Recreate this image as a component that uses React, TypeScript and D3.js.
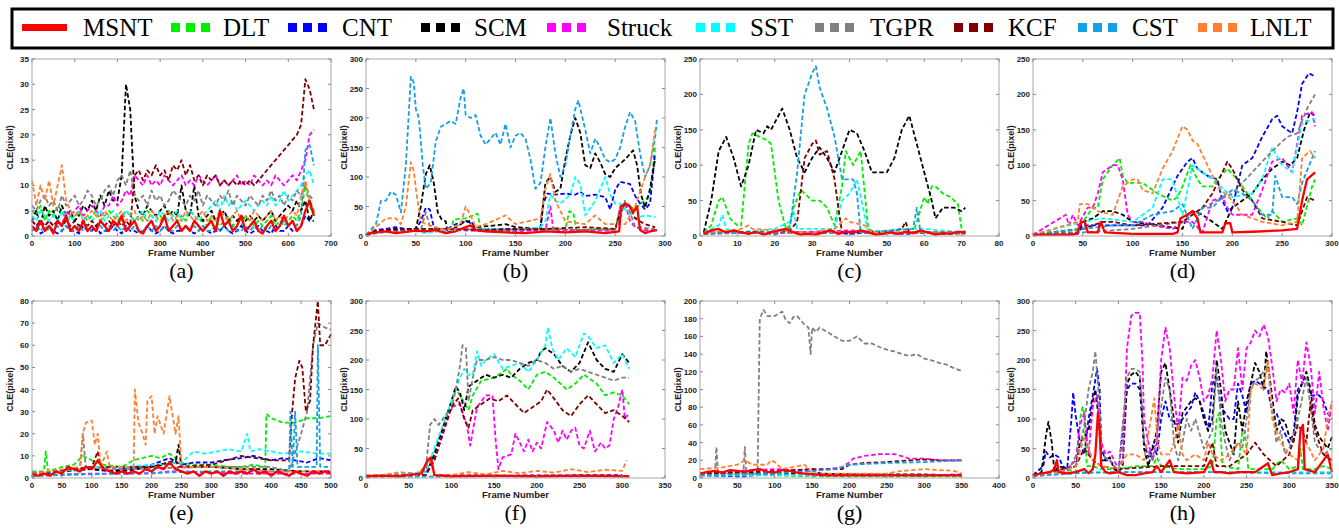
import * as d3 from "d3";

const methods = ["MSNT", "DLT", "CNT", "SCM", "Struck", "SST", "TGPR", "KCF", "CST", "LNLT"];
const colors = ["#ff0000", "#00ee00", "#0000ff", "#000000", "#ff00ff", "#00ffff", "#808080", "#800000", "#14a0e6", "#ff8030"];

// (a) one value every 10 frames, frames 0..660
const aMSNT = [2,1,3,1,2,0.5,3,2,4,1, 2,1,3,1,2,1,3,2,1,3, 2,4,1,2,3,1,0.5,2,3,1, 2,4,1,2,3,1,2,1,3,2, 1,2,3,1,5,2,3,1,2,4, 1,2,3,1,0.5,2,3,1,2,4, 2,3,1,2,5,7,4];
const aDLT = [5,4,6,3,5,4,6,5,3,4, 3,5,4,3,4,5,3,4,5,4, 3,4,5,4,3,4,3,5,4,3, 4,3,5,4,3,4,3,5,4,3, 3,2,4,3,2,3,4,2,3,2, 4,3,2,3,2,3,4,2,3,2, 3,4,3,5,10,6,4];
const aCNT = [1,2,0.5,1,2,1,0.5,1,2,1, 1,0.5,2,1,1,2,0.5,1,1,2, 1,0.5,2,1,1,0.5,1,2,1,0.5, 1,2,1,0.5,1,1,2,1,0.5,1, 2,1,0.5,1,1,2,1,0.5,1,2, 1,0.5,1,2,1,1,0.5,2,1,1, 2,1,1,2,4,3,3];
const aSCM = [3,5,2,6,4,5,3,6,4,5, 3,4,6,5,7,5,8,6,9,7, 7,12,30,25,8,5,4,6,5,4, 5,6,4,5,4,10,5,4,10,4, 3,4,5,3,4,5,3,4,3,4, 3,4,3,4,3,4,5,3,4,5, 6,5,7,5,7,3,5];
const aStruck = [3,2,3,2,3,2,3,2,5,4, 5,6,4,5,6,5,4,6,6,8, 6,7,9,8,12,11,10,12,10,11, 10,12,11,10,11,12,10,11,10,12, 11,10,11,12,10,11,10,11,12,10, 11,10,12,11,10,11,10,12,11,10, 11,12,11,13,15,20,21];
const aSST = [4,3,5,4,3,4,3,5,4,3, 4,5,3,4,3,4,5,3,4,5, 4,3,5,4,3,4,5,3,4,3, 5,4,3,4,5,3,4,5,4,3, 4,5,6,7,5,8,6,7,5,6, 7,6,5,6,7,6,8,6,7,9, 7,8,9,10,12,13,10];
const aTGPR = [6,5,7,8,6,7,5,8,6,7, 8,6,7,9,8,6,7,9,10,8, 11,12,10,13,8,7,8,6,9,7, 8,6,7,9,8,7,6,8,7,9, 6,8,7,6,8,7,9,6,8,7, 6,8,7,6,8,7,9,7,8,6, 8,7,9,8,10,8,7];
const aKCF = [3,2,3,2,3,2,3,2,3,2, 3,2,3,2,3,2,3,2,3,2, 3,2,3,2,12,13,11,13,12,14, 12,13,11,14,13,15,12,14,11,12, 10,12,11,12,10,11,10,11,10,11, 10,11,10,11,12,13,14,15,16,17, 18,19,20,22,31,29,25];
const aCST = [1,2,1,2,1,1,2,1,2,1, 1,2,1,2,1,1,2,1,2,1, 2,1,2,1,2,1,1,2,1,2, 1,2,1,1,2,1,2,1,2,1, 2,1,1,2,1,2,1,2,1,1, 2,1,2,1,2,1,2,1,2,3, 2,3,2,4,17,18,14];
const aLNLT = [11,6,10,7,11,6,10,14,7,5, 4,5,3,4,5,4,3,5,4,3, 4,5,3,4,5,3,4,3,5,4, 3,4,5,3,4,3,5,4,3,4, 5,3,4,3,5,4,3,4,5,3, 4,3,5,4,3,4,5,3,4,3, 4,5,4,8,11,7,5];

// (b)..(h): frame, value pairs
const bMSNT = [0,2, 5,5, 10,6, 20,8, 30,5, 40,7, 50,9, 60,8, 70,10, 80,5, 90,8, 100,15, 105,18, 110,10, 120,8, 140,6, 160,5, 180,8, 200,6, 220,8, 240,5, 254,8, 256,50, 260,55, 264,52, 268,40, 272,50, 275,10, 280,5, 285,8, 292,10];
const bDLT = [0,2, 10,8, 30,10, 50,10, 70,12, 85,10, 88,28, 100,30, 108,35, 112,38, 115,12, 130,12, 150,12, 175,10, 200,12, 204,42, 208,40, 211,10, 230,12, 250,10, 255,48, 260,55, 265,50, 270,45, 275,55, 280,60, 285,70, 290,150];
const bCNT = [0,2, 10,10, 20,12, 30,15, 40,12, 50,12, 55,25, 60,48, 64,45, 68,15, 80,10, 90,20, 100,25, 105,22, 110,12, 130,12, 150,12, 165,10, 175,12, 178,55, 182,72, 190,70, 200,72, 210,70, 215,75, 220,68, 230,70, 240,66, 245,45, 250,78, 255,92, 265,88, 270,68, 275,55, 280,45, 285,55, 290,140];
const bSCM = [0,2, 10,8, 20,10, 30,12, 40,10, 50,12, 55,50, 60,105, 64,120, 68,90, 72,40, 76,28, 80,25, 82,5, 90,15, 100,25, 105,25, 110,15, 130,18, 140,20, 150,15, 175,12, 180,90, 185,100, 190,75, 195,80, 200,130, 205,170, 210,200, 215,175, 220,120, 225,115, 230,140, 235,125, 240,105, 245,100, 250,115, 260,130, 268,145, 272,120, 276,70, 280,48, 285,80, 290,130];
const bStruck = [0,2, 10,5, 30,8, 50,10, 70,8, 90,10, 120,8, 150,8, 180,10, 185,50, 188,8, 200,10, 230,10, 250,8, 255,50, 260,55, 265,25, 270,15, 280,10, 290,10];
const bSST = [0,2, 10,5, 30,10, 50,8, 60,5, 80,10, 120,12, 150,10, 175,15, 180,25, 185,70, 190,60, 195,55, 205,70, 210,100, 215,88, 220,35, 230,60, 240,100, 245,70, 250,55, 255,55, 260,45, 270,30, 280,35, 290,32];
const bTGPR = [0,2, 20,8, 40,10, 55,10, 60,40, 65,12, 90,12, 130,10, 180,12, 220,10, 250,12, 255,30, 260,60, 265,40, 270,15, 290,12];
const bKCF = [0,2, 20,10, 50,12, 80,12, 120,10, 180,12, 220,15, 250,12, 255,40, 260,55, 265,50, 270,30, 280,20, 290,15];
const bCST = [0,2, 10,20, 15,60, 20,60, 25,75, 30,70, 35,40, 40,120, 45,270, 48,260, 50,215, 53,200, 57,120, 60,80, 65,90, 70,160, 75,185, 80,190, 85,195, 90,190, 95,235, 98,250, 100,205, 105,200, 110,205, 115,170, 120,155, 125,165, 130,175, 135,155, 140,190, 145,150, 150,170, 155,175, 160,165, 165,130, 170,80, 175,90, 180,150, 185,200, 190,140, 195,100, 200,120, 205,170, 210,215, 213,230, 220,180, 225,140, 230,165, 235,150, 240,130, 245,125, 250,130, 255,150, 260,185, 265,210, 270,195, 275,140, 280,100, 285,120, 290,165, 292,200];
const bLNLT = [0,0, 10,15, 20,30, 30,30, 35,20, 40,50, 45,125, 48,110, 50,80, 55,25, 60,20, 80,10, 95,20, 100,50, 105,35, 110,15, 120,20, 140,35, 150,20, 175,30, 180,80, 185,105, 190,60, 200,25, 220,20, 230,35, 240,20, 260,20, 270,50, 280,100, 285,120, 290,180];

const cMSNT = [1,3, 3,8, 5,10, 7,5, 9,8, 11,5, 13,3, 15,6, 17,2, 19,5, 21,8, 23,10, 25,5, 27,2, 29,3, 31,2, 33,5, 35,8, 37,3, 39,6, 41,5, 43,8, 45,5, 47,2, 49,3, 51,5, 53,3, 55,6, 57,4, 59,8, 61,5, 63,2, 65,4, 67,3, 69,6, 71,5];
const cDLT = [1,5, 3,15, 5,50, 6,55, 8,25, 10,15, 11,15, 13,130, 14,145, 16,140, 18,135, 19,130, 21,50, 23,10, 24,15, 25,40, 27,65, 29,55, 30,50, 32,50, 34,40, 36,15, 38,70, 39,120, 41,100, 43,120, 45,10, 47,5, 57,5, 58,20, 60,55, 61,45, 62,70, 63,70, 65,60, 67,55, 69,45, 70,10, 71,5];
const cCNT = [1,3, 5,6, 10,4, 15,5, 20,3, 25,6, 30,4, 35,5, 40,3, 45,5, 50,4, 55,3, 60,5, 65,3, 71,4];
const cSCM = [1,5, 3,50, 5,120, 7,140, 9,110, 11,70, 13,100, 15,150, 17,145, 18,155, 19,150, 22,180, 24,150, 26,110, 28,90, 30,110, 32,125, 34,110, 36,90, 38,120, 40,150, 42,145, 44,120, 46,90, 48,90, 50,90, 52,110, 54,150, 56,170, 58,130, 60,90, 62,50, 63,25, 65,40, 68,40, 70,35, 71,40];
const cStruck = [1,3, 10,5, 20,4, 30,6, 40,8, 50,5, 60,4, 71,5];
const cSST = [1,5, 5,15, 6,30, 7,10, 10,5, 20,10, 24,20, 25,35, 26,10, 36,10, 38,50, 40,60, 42,80, 44,30, 45,5, 55,10, 60,10, 71,5];
const cTGPR = [1,3, 10,4, 20,5, 30,3, 40,6, 50,4, 60,5, 71,3];
const cKCF = [1,5, 10,6, 20,5, 24,8, 26,20, 28,110, 30,130, 31,135, 32,115, 34,120, 36,80, 37,40, 38,5, 50,6, 54,10, 55,20, 56,5, 71,5];
const cCST = [1,3, 10,5, 20,5, 24,10, 26,90, 28,200, 30,230, 31,240, 32,210, 34,180, 36,140, 38,80, 40,80, 41,80, 42,60, 43,5, 57,10, 58,40, 59,5, 71,5];
const cLNLT = [1,5, 10,8, 13,15, 14,10, 20,8, 30,5, 36,10, 39,25, 40,20, 44,15, 46,5, 60,5, 71,5];

const dMSNT = [0,2, 40,2, 45,5, 48,20, 52,20, 55,5, 65,5, 68,20, 72,5, 100,3, 140,3, 145,5, 148,25, 155,30, 160,35, 165,25, 168,5, 190,5, 193,18, 198,18, 200,5, 220,6, 250,8, 265,10, 270,50, 275,80, 283,90];
const dDLT = [0,2, 45,10, 60,40, 65,40, 70,80, 80,100, 87,110, 90,85, 95,75, 110,75, 125,60, 140,50, 145,55, 150,70, 158,100, 165,80, 170,70, 180,70, 185,80, 195,95, 205,80, 215,60, 225,40, 235,25, 240,35, 250,20, 265,25, 270,15, 280,70, 283,80];
const dCNT = [0,2, 45,3, 50,15, 70,15, 90,15, 100,15, 115,15, 130,40, 145,85, 155,105, 160,110, 165,95, 175,85, 185,80, 190,50, 195,35, 200,40, 205,70, 210,100, 220,110, 230,140, 240,165, 245,170, 250,155, 260,145, 265,175, 270,215, 277,230, 283,225];
const dSCM = [0,2, 45,5, 50,20, 60,25, 70,35, 80,35, 90,30, 100,20, 150,10, 155,30, 160,35, 170,30, 180,20, 190,10, 200,40, 210,50, 220,60, 230,80, 240,95, 250,105, 258,100, 265,110, 272,150, 278,175, 283,170];
const dStruck = [0,2, 33,30, 36,15, 40,30, 45,15, 55,40, 60,40, 65,60, 70,90, 80,100, 85,100, 90,80, 95,30, 100,20, 110,20, 120,15, 140,10, 150,20, 160,20, 170,5, 180,50, 190,55, 195,40, 200,30, 210,30, 220,30, 230,65, 240,105, 250,110, 260,90, 270,170, 280,175, 283,155];
const dSST = [0,2, 50,20, 70,25, 100,20, 120,40, 130,80, 140,80, 150,30, 160,100, 170,90, 180,80, 200,55, 220,60, 230,80, 240,125, 250,100, 260,90, 270,160, 283,165];
const dTGPR = [0,2, 50,5, 100,10, 150,20, 170,40, 200,60, 220,90, 240,120, 255,140, 265,145, 275,180, 283,200];
const dKCF = [0,2, 50,10, 70,20, 80,20, 100,15, 150,20, 160,30, 170,40, 180,60, 190,90, 195,105, 200,95, 210,65, 220,50, 230,25, 250,20, 265,15, 275,55, 283,50];
const dCST = [0,2, 50,10, 80,15, 100,15, 120,30, 140,35, 150,45, 160,10, 170,40, 180,40, 190,55, 200,65, 210,60, 220,50, 230,30, 240,30, 243,85, 250,55, 260,55, 265,45, 270,75, 280,110, 283,120];
const dLNLT = [0,2, 45,20, 47,45, 55,45, 60,40, 65,35, 80,30, 90,70, 100,80, 105,80, 110,65, 120,60, 130,95, 140,120, 150,155, 155,150, 160,135, 165,130, 175,100, 185,70, 200,50, 210,30, 230,20, 250,15, 265,20, 270,110, 278,120, 283,110];

const eMSNT = [0,2, 10,1, 20,2, 30,1, 40,3, 50,2, 60,5, 70,4, 80,3, 90,5, 100,4, 110,8, 120,4, 130,3, 140,2, 150,3, 160,2, 170,3, 180,2, 190,4, 200,3, 210,5, 220,4, 230,7, 240,4, 250,3, 260,2, 270,3, 280,1, 290,3, 300,2, 310,3, 320,1, 330,3, 340,2, 350,3, 360,2, 370,4, 380,2, 390,3, 400,1, 410,3, 420,2, 430,1, 440,3, 450,2, 460,1, 470,3, 480,2, 490,3, 500,2];
const eDLT = [0,3, 20,3, 23,12, 27,3, 50,5, 70,6, 85,10, 100,8, 120,6, 150,5, 170,8, 200,10, 215,9, 230,11, 250,7, 270,6, 300,6, 330,5, 350,5, 370,6, 390,5, 392,29, 400,27, 420,25, 440,25, 460,27, 480,27, 500,28];
const eCNT = [0,2, 30,2, 50,3, 80,4, 100,4, 130,3, 150,4, 180,5, 200,6, 230,9, 250,6, 270,7, 300,7, 320,8, 350,9, 370,10, 400,8, 420,9, 440,8, 460,7, 480,9, 500,8];
const eSCM = [0,2, 50,3, 100,4, 150,3, 200,5, 240,7, 245,15, 250,5, 300,5, 350,4, 400,4, 450,3, 500,3];
const eStruck = [0,1, 100,2, 200,2, 230,3, 250,3, 350,2, 500,2];
const eSST = [0,2, 50,3, 100,5, 150,5, 200,6, 250,7, 270,12, 290,11, 310,12, 330,13, 350,12, 360,20, 365,12, 380,13, 400,12, 420,11, 450,12, 480,11, 500,11];
const eTGPR = [0,1, 80,2, 85,20, 90,5, 150,4, 300,5, 400,5, 430,3, 450,20, 460,30, 470,60, 478,70, 490,68, 500,67];
const eKCF = [0,2, 100,5, 110,12, 115,5, 200,5, 240,8, 245,5, 300,6, 350,10, 400,8, 430,8, 435,30, 440,45, 447,53, 452,50, 458,30, 465,35, 470,60, 478,80, 482,60, 490,60, 500,65];
const eCST = [0,1, 300,3, 430,3, 432,30, 436,5, 440,30, 444,5, 476,5, 478,60, 482,5, 500,5];
const eLNLT = [0,2, 80,5, 85,20, 90,25, 100,26, 105,15, 110,20, 115,5, 125,12, 130,5, 170,5, 172,40, 178,25, 185,20, 190,15, 193,35, 200,37, 205,20, 210,28, 220,20, 230,37, 240,20, 245,28, 250,5, 300,5, 400,3, 450,3, 500,3];

const fMSNT = [0,3, 20,4, 40,3, 65,8, 72,30, 76,35, 80,5, 100,3, 150,4, 200,3, 250,4, 308,3];
const fDLT = [0,3, 70,5, 80,40, 100,130, 105,150, 110,140, 120,115, 125,140, 135,165, 150,170, 165,185, 170,175, 180,165, 190,150, 200,175, 210,180, 220,170, 235,150, 245,160, 255,175, 260,170, 270,160, 280,140, 290,145, 300,140, 308,125];
const fCNT = [0,3, 70,10, 76,35, 80,5, 150,4, 300,5];
const fSCM = [0,3, 70,5, 80,40, 100,130, 105,155, 110,145, 115,115, 120,155, 125,160, 130,165, 140,175, 150,170, 160,175, 170,170, 180,185, 190,195, 200,200, 205,215, 210,220, 220,210, 230,190, 240,180, 250,195, 260,230, 270,200, 280,185, 290,180, 300,210, 308,195];
const fStruck = [0,3, 70,5, 80,30, 100,120, 110,125, 118,90, 122,55, 130,120, 140,140, 148,140, 152,60, 155,15, 160,35, 170,40, 175,75, 180,60, 185,45, 190,65, 195,45, 200,60, 205,50, 212,95, 220,80, 225,60, 230,80, 235,65, 240,80, 245,85, 250,55, 255,50, 262,80, 268,45, 275,60, 280,50, 285,55, 290,100, 295,120, 300,150, 303,100, 308,110];
const fSST = [0,3, 70,10, 105,150, 110,170, 115,185, 120,175, 125,175, 130,215, 135,190, 140,200, 150,210, 160,185, 170,190, 180,195, 190,180, 200,200, 210,225, 213,255, 218,220, 225,200, 235,220, 245,205, 255,245, 260,240, 270,220, 280,225, 290,195, 300,210, 308,185];
const fTGPR = [0,3, 60,5, 70,15, 75,90, 80,100, 85,90, 95,110, 100,115, 105,150, 110,190, 113,225, 117,220, 120,130, 125,170, 130,200, 140,200, 150,205, 160,200, 170,200, 180,195, 190,190, 200,200, 210,195, 220,185, 230,190, 240,180, 250,185, 260,180, 270,175, 280,170, 290,165, 300,170, 308,170];
const fKCF = [0,3, 70,5, 80,30, 100,120, 108,135, 115,100, 120,85, 125,115, 135,125, 145,135, 155,130, 165,140, 175,125, 185,110, 195,120, 205,130, 212,150, 220,135, 230,115, 240,105, 250,125, 260,140, 270,125, 280,110, 290,115, 300,105, 308,95];
const fCST = [0,2, 150,3, 308,3];
const fLNLT = [0,5, 20,5, 40,10, 60,5, 75,30, 80,5, 100,5, 120,10, 140,6, 160,12, 180,8, 200,12, 220,9, 240,15, 260,10, 280,14, 300,12, 305,30];

const gMSNT = [0,5, 10,7, 20,8, 30,6, 40,9, 50,8, 60,7, 70,9, 80,10, 90,7, 100,6, 110,9, 120,8, 130,6, 140,5, 150,4, 170,3, 200,3, 250,3, 300,3, 350,3];
const gDLT = [0,5, 50,4, 100,3, 150,2, 200,2, 350,2];
const gCNT = [0,3, 50,2, 60,2, 100,5, 130,8, 150,10, 160,5, 200,4, 300,3, 350,4];
const gSCM = [0,5, 50,6, 100,5, 150,5, 200,4, 250,4, 300,4, 350,3];
const gStruck = [0,5, 50,8, 100,10, 150,8, 190,12, 200,18, 205,22, 220,25, 240,27, 260,27, 280,22, 300,22, 320,20, 350,20];
const gSST = [0,3, 200,3, 350,3];
const gTGPR = [0,5, 20,5, 22,35, 24,5, 58,5, 60,35, 62,5, 77,5, 80,180, 85,190, 90,183, 100,183, 110,188, 115,178, 120,175, 125,182, 130,183, 135,178, 140,173, 145,170, 148,140, 150,170, 155,165, 160,170, 170,165, 180,160, 190,155, 200,155, 210,160, 220,152, 230,152, 240,148, 250,145, 260,143, 270,140, 280,138, 290,140, 300,135, 310,133, 320,130, 330,128, 340,124, 350,121];
const gKCF = [0,5, 100,8, 150,10, 190,10, 200,15, 220,17, 250,18, 280,20, 300,21, 320,20, 350,20];
const gCST = [0,3, 100,5, 150,8, 180,10, 200,15, 250,17, 300,18, 350,20];
const gLNLT = [0,10, 30,12, 50,15, 60,20, 70,15, 90,15, 95,20, 100,18, 110,10, 140,15, 150,5, 200,5, 250,5, 270,8, 300,10, 340,8, 350,5];

const hMSNT = [0,5, 10,8, 20,10, 25,15, 28,30, 30,10, 40,8, 50,10, 60,15, 65,8, 70,15, 73,40, 76,110, 78,80, 80,20, 85,10, 90,8, 100,10, 110,5, 120,5, 130,8, 140,10, 145,20, 150,10, 160,30, 165,10, 180,8, 200,10, 208,30, 212,10, 220,10, 230,8, 240,10, 250,10, 260,10, 270,20, 275,25, 280,5, 290,8, 300,10, 310,15, 313,80, 316,90, 318,15, 330,10, 340,30, 345,40, 350,10];
const hDLT = [0,5, 20,10, 40,15, 50,10, 55,100, 58,120, 60,110, 63,20, 70,20, 80,15, 100,15, 120,20, 140,20, 145,35, 150,20, 170,15, 200,15, 210,20, 215,100, 218,110, 222,20, 240,15, 245,80, 248,80, 252,15, 280,15, 290,30, 300,15, 310,20, 313,50, 316,15, 330,15, 340,20, 350,15];
const hCNT = [0,5, 12,20, 15,45, 20,35, 25,40, 30,35, 35,20, 40,15, 45,100, 47,145, 50,105, 55,60, 60,40, 65,100, 70,140, 75,185, 78,150, 80,50, 85,30, 90,30, 100,10, 110,150, 115,160, 120,160, 125,150, 130,60, 135,35, 140,55, 145,40, 150,100, 155,130, 160,100, 170,90, 180,110, 185,120, 190,145, 195,130, 200,110, 205,80, 210,160, 215,170, 220,120, 225,110, 230,100, 235,100, 240,160, 245,140, 250,110, 255,160, 260,165, 265,160, 270,155, 275,150, 280,110, 285,110, 290,90, 295,75, 300,60, 305,75, 310,150, 315,160, 320,170, 325,140, 330,140, 335,140, 340,130, 345,110, 350,100];
const hSCM = [0,5, 10,10, 15,70, 18,95, 22,60, 25,10, 30,20, 40,15, 50,20, 55,60, 60,70, 65,80, 70,130, 73,150, 77,100, 80,30, 85,30, 90,35, 95,15, 100,10, 105,20, 110,160, 115,175, 120,180, 125,170, 130,50, 135,20, 140,50, 145,80, 150,180, 155,195, 160,150, 165,100, 170,60, 175,110, 180,120, 185,130, 190,135, 195,130, 200,100, 205,80, 210,100, 215,200, 220,150, 225,80, 230,60, 235,40, 240,130, 245,80, 250,130, 255,160, 260,195, 265,180, 270,150, 273,215, 278,160, 285,80, 290,100, 295,95, 300,70, 305,60, 310,140, 315,160, 320,180, 325,150, 330,90, 335,70, 340,60, 345,50, 350,70];
const hStruck = [0,5, 10,5, 20,10, 40,15, 50,30, 55,90, 60,110, 65,40, 70,120, 75,140, 80,60, 85,40, 90,45, 95,30, 100,15, 105,30, 110,220, 115,275, 120,280, 125,280, 128,200, 130,100, 135,60, 140,30, 145,60, 150,200, 155,255, 160,220, 165,140, 170,80, 175,170, 180,165, 185,190, 190,200, 195,170, 200,130, 205,140, 210,170, 215,250, 220,200, 225,130, 230,150, 235,150, 240,220, 245,150, 250,220, 255,230, 260,250, 265,240, 270,260, 275,240, 280,190, 285,130, 290,150, 295,145, 300,160, 305,110, 310,200, 315,160, 320,230, 325,190, 330,110, 335,180, 340,120, 345,80, 350,130];
const hSST = [0,5, 50,10, 100,10, 150,10, 200,10, 250,10, 300,10, 350,10];
const hTGPR = [0,5, 20,10, 40,10, 55,50, 60,90, 65,150, 70,180, 73,215, 78,120, 80,40, 90,30, 100,10, 110,170, 115,185, 120,185, 125,180, 130,60, 140,30, 150,120, 155,170, 160,150, 165,60, 170,30, 175,60, 180,100, 185,80, 190,100, 200,50, 210,80, 215,190, 220,100, 225,60, 230,30, 240,60, 245,50, 250,100, 255,150, 260,165, 265,170, 270,180, 275,190, 280,120, 285,60, 290,80, 295,40, 300,50, 310,100, 320,170, 325,120, 330,60, 340,40, 350,50];
const hKCF = [0,5, 20,10, 50,20, 60,50, 70,30, 80,20, 100,15, 150,20, 200,20, 210,60, 215,20, 230,20, 250,40, 260,60, 270,40, 285,20, 300,40, 310,90, 315,80, 320,60, 325,130, 330,80, 335,60, 340,40, 350,30];
const hCST = [0,3, 50,8, 100,10, 200,10, 300,8, 350,8];
const hLNLT = [0,5, 30,10, 50,20, 60,70, 70,30, 80,20, 100,15, 110,40, 120,40, 130,30, 138,100, 142,135, 146,60, 150,40, 160,40, 165,60, 170,90, 175,40, 180,30, 190,40, 200,30, 205,60, 210,40, 220,30, 230,40, 240,60, 250,40, 255,150, 260,160, 265,155, 270,150, 275,200, 280,100, 290,60, 300,40, 310,30, 320,60, 330,30, 340,50, 345,100, 350,130];

type Pt = [number, number];
const pairs = (flat: number[]): Pt[] => {
  const out: Pt[] = [];
  for (let i = 0; i < flat.length; i += 2) out.push([flat[i], flat[i + 1]]);
  return out;
};
const stepped = (vals: number[], step: number): Pt[] => vals.map((v, i) => [i * step, v] as Pt);

interface Panel { label: string; xMax: number; xStep: number; yMax: number; yStep: number; series: Pt[][]; }

const panels: Panel[] = [
  { label: "(a)", xMax: 700, xStep: 100, yMax: 35, yStep: 5, series: [aMSNT, aDLT, aCNT, aSCM, aStruck, aSST, aTGPR, aKCF, aCST, aLNLT].map(v => stepped(v, 10)) },
  { label: "(b)", xMax: 300, xStep: 50, yMax: 300, yStep: 50, series: [bMSNT, bDLT, bCNT, bSCM, bStruck, bSST, bTGPR, bKCF, bCST, bLNLT].map(pairs) },
  { label: "(c)", xMax: 80, xStep: 10, yMax: 250, yStep: 50, series: [cMSNT, cDLT, cCNT, cSCM, cStruck, cSST, cTGPR, cKCF, cCST, cLNLT].map(pairs) },
  { label: "(d)", xMax: 300, xStep: 50, yMax: 250, yStep: 50, series: [dMSNT, dDLT, dCNT, dSCM, dStruck, dSST, dTGPR, dKCF, dCST, dLNLT].map(pairs) },
  { label: "(e)", xMax: 500, xStep: 50, yMax: 80, yStep: 10, series: [eMSNT, eDLT, eCNT, eSCM, eStruck, eSST, eTGPR, eKCF, eCST, eLNLT].map(pairs) },
  { label: "(f)", xMax: 350, xStep: 50, yMax: 300, yStep: 50, series: [fMSNT, fDLT, fCNT, fSCM, fStruck, fSST, fTGPR, fKCF, fCST, fLNLT].map(pairs) },
  { label: "(g)", xMax: 400, xStep: 50, yMax: 200, yStep: 20, series: [gMSNT, gDLT, gCNT, gSCM, gStruck, gSST, gTGPR, gKCF, gCST, gLNLT].map(pairs) },
  { label: "(h)", xMax: 350, xStep: 50, yMax: 300, yStep: 50, series: [hMSNT, hDLT, hCNT, hSCM, hStruck, hSST, hTGPR, hKCF, hCST, hLNLT].map(pairs) },
];

const PW = 299;
const PH = 177;
const lefts = [32, 366, 700, 1033];
const tops = [59, 301];
const sans = "'Liberation Sans', Arial, sans-serif";
const serif = "'Liberation Serif', 'Times New Roman', serif";

// draw dashed methods first, MSNT (solid) on top
const drawOrder = [1, 2, 3, 4, 5, 6, 7, 8, 9, 0];

function Plot({ p, x0, y0 }: { p: Panel; x0: number; y0: number }) {
  const x = d3.scaleLinear().domain([0, p.xMax]).range([x0, x0 + PW]);
  const y = d3.scaleLinear().domain([0, p.yMax]).range([y0 + PH, y0]);
  const line = d3.line<Pt>().x(d => x(d[0])).y(d => y(d[1]));
  const xt = d3.range(0, p.xMax + 1e-6, p.xStep);
  const yt = d3.range(0, p.yMax + 1e-6, p.yStep);
  return (
    <g>
      <rect x={x0} y={y0} width={PW} height={PH} fill="#fff" />
      {drawOrder.map(i => (
        <path key={i} d={line(p.series[i]) || ""} fill="none" stroke={colors[i]}
          strokeWidth={i === 0 ? 2.3 : 1.8} strokeDasharray={i === 0 ? undefined : "4.5 2.5"} strokeLinejoin="round" />
      ))}
      <rect x={x0} y={y0} width={PW} height={PH} fill="none" stroke="#a8a8a8" strokeWidth={1} />
      {xt.map(t => (
        <g key={"x" + t}>
          <line x1={x(t)} x2={x(t)} y1={y0 + PH} y2={y0 + PH - 3} stroke="#888" />
          <line x1={x(t)} x2={x(t)} y1={y0} y2={y0 + 3} stroke="#888" />
          <text x={x(t)} y={y0 + PH + 10} textAnchor="middle" fontSize={8} fontWeight="bold" fontFamily={sans} fill="#222">{t}</text>
        </g>
      ))}
      {yt.map(t => (
        <g key={"y" + t}>
          <line x1={x0} x2={x0 + 3} y1={y(t)} y2={y(t)} stroke="#888" />
          <line x1={x0 + PW} x2={x0 + PW - 3} y1={y(t)} y2={y(t)} stroke="#888" />
          <text x={x0 - 3} y={y(t) + 3} textAnchor="end" fontSize={8} fontWeight="bold" fontFamily={sans} fill="#222">{t}</text>
        </g>
      ))}
      <text x={x0 + PW / 2} y={y0 + PH + 20} textAnchor="middle" fontSize={9.5} fontWeight="bold" fontFamily={sans} fill="#222">Frame Number</text>
      <text transform={`translate(${x0 - 19},${y0 + PH / 2}) rotate(-90)`} textAnchor="middle" fontSize={9} fontWeight="bold" fontFamily={sans} fill="#222">CLE(pixel)</text>
      <text x={x0 + PW / 2} y={y0 + PH + 42} textAnchor="middle" fontSize={22} fontFamily={serif} fill="#000">{p.label}</text>
    </g>
  );
}

const legendMarkX = [22, 171, 288, 421, 547, 696, 815, 954, 1078, 1198];
const legendTextX = [83, 223, 342, 474, 607, 750, 870, 1008, 1132, 1250];

export default function App() {
  return (
    <svg width={1339} height={528} style={{ position: "absolute", left: 0, top: 0, background: "#fff" }}>
      <rect x={12} y={9} width={1321} height={39} fill="#fff" stroke="#000" strokeWidth={3} />
      {methods.map((m, i) => (
        <g key={m}>
          {i === 0 ? (
            <rect x={legendMarkX[i]} y={24} width={45} height={7} fill={colors[i]} />
          ) : (
            <line x1={legendMarkX[i]} x2={legendMarkX[i] + 39} y1={27.5} y2={27.5} stroke={colors[i]} strokeWidth={9} strokeDasharray="9 6" />
          )}
          <text x={legendTextX[i]} y={36} fontSize={25} fontFamily={serif} fill="#000">{m}</text>
        </g>
      ))}
      {panels.map((p, k) => (
        <Plot key={p.label} p={p} x0={lefts[k % 4]} y0={tops[Math.floor(k / 4)]} />
      ))}
    </svg>
  );
}
